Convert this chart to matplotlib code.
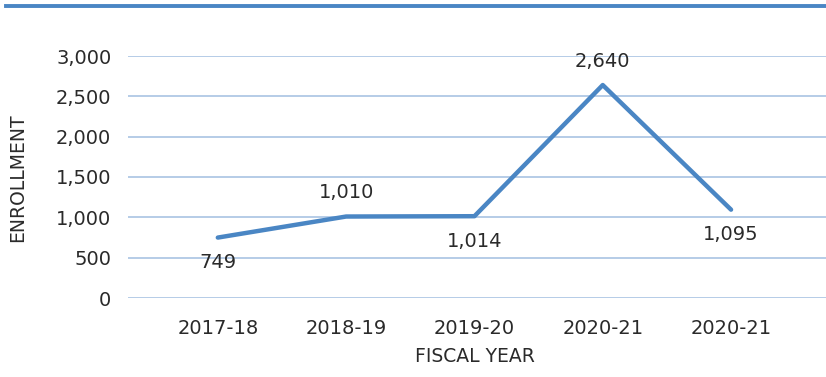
import matplotlib
matplotlib.use("Agg")
import matplotlib.pyplot as plt
from matplotlib.lines import Line2D
from matplotlib.ticker import FuncFormatter

years = ["2017-18", "2018-19", "2019-20", "2020-21", "2020-21"]
enrollment = [749, 1010, 1014, 2640, 1095]
label_above = [False, True, False, True, False]

plt.rcParams["font.family"] = ["DejaVu Sans"]

line_color = "#4a86c4"
grid_color = "#a9c3e3"
text_color = "#2a2a2a"

W, H = 826, 377
fig = plt.figure(figsize=(W / 100, H / 100), dpi=100)
ax = fig.add_axes([128 / W, 1 - 298 / H, 698 / W, 242 / H])

x = list(range(len(years)))
ax.plot(x, enrollment, color=line_color, lw=3.2, solid_capstyle="round", zorder=3)

for xi, v, up in zip(x, enrollment, label_above):
    off = 17 if up else -18
    ax.annotate(f"{v:,}", (xi, v), xytext=(0, off), textcoords="offset points",
                ha="center", va="center", fontsize=14, color=text_color)

ax.set_ylim(0, 3000)
ax.set_yticks(range(0, 3001, 500))
ax.yaxis.set_major_formatter(FuncFormatter(lambda v, p: f"{int(v):,}"))
ax.set_xlim(-0.70, 4.74)
ax.set_xticks(x)
ax.set_xticklabels(years)
ax.grid(axis="y", color=grid_color, lw=1.2)
ax.set_axisbelow(True)
for s in ax.spines.values():
    s.set_visible(False)
ax.tick_params(length=0, labelsize=14, colors=text_color)
ax.tick_params(axis="y", pad=12)
ax.tick_params(axis="x", pad=15)

fig.text(18 / W, 1 - 178 / H, "ENROLLMENT", rotation=90, ha="center", va="center",
         fontsize=13.5, color=text_color)
fig.text(475 / W, 1 - 357 / H, "FISCAL YEAR", ha="center", va="center",
         fontsize=13.5, color=text_color)

# decorative rule across the top
fig.add_artist(Line2D([6 / W, 1], [1 - 6 / H] * 2, transform=fig.transFigure,
                      color=line_color, lw=2.8))

fig.savefig("out.png", dpi=100)
